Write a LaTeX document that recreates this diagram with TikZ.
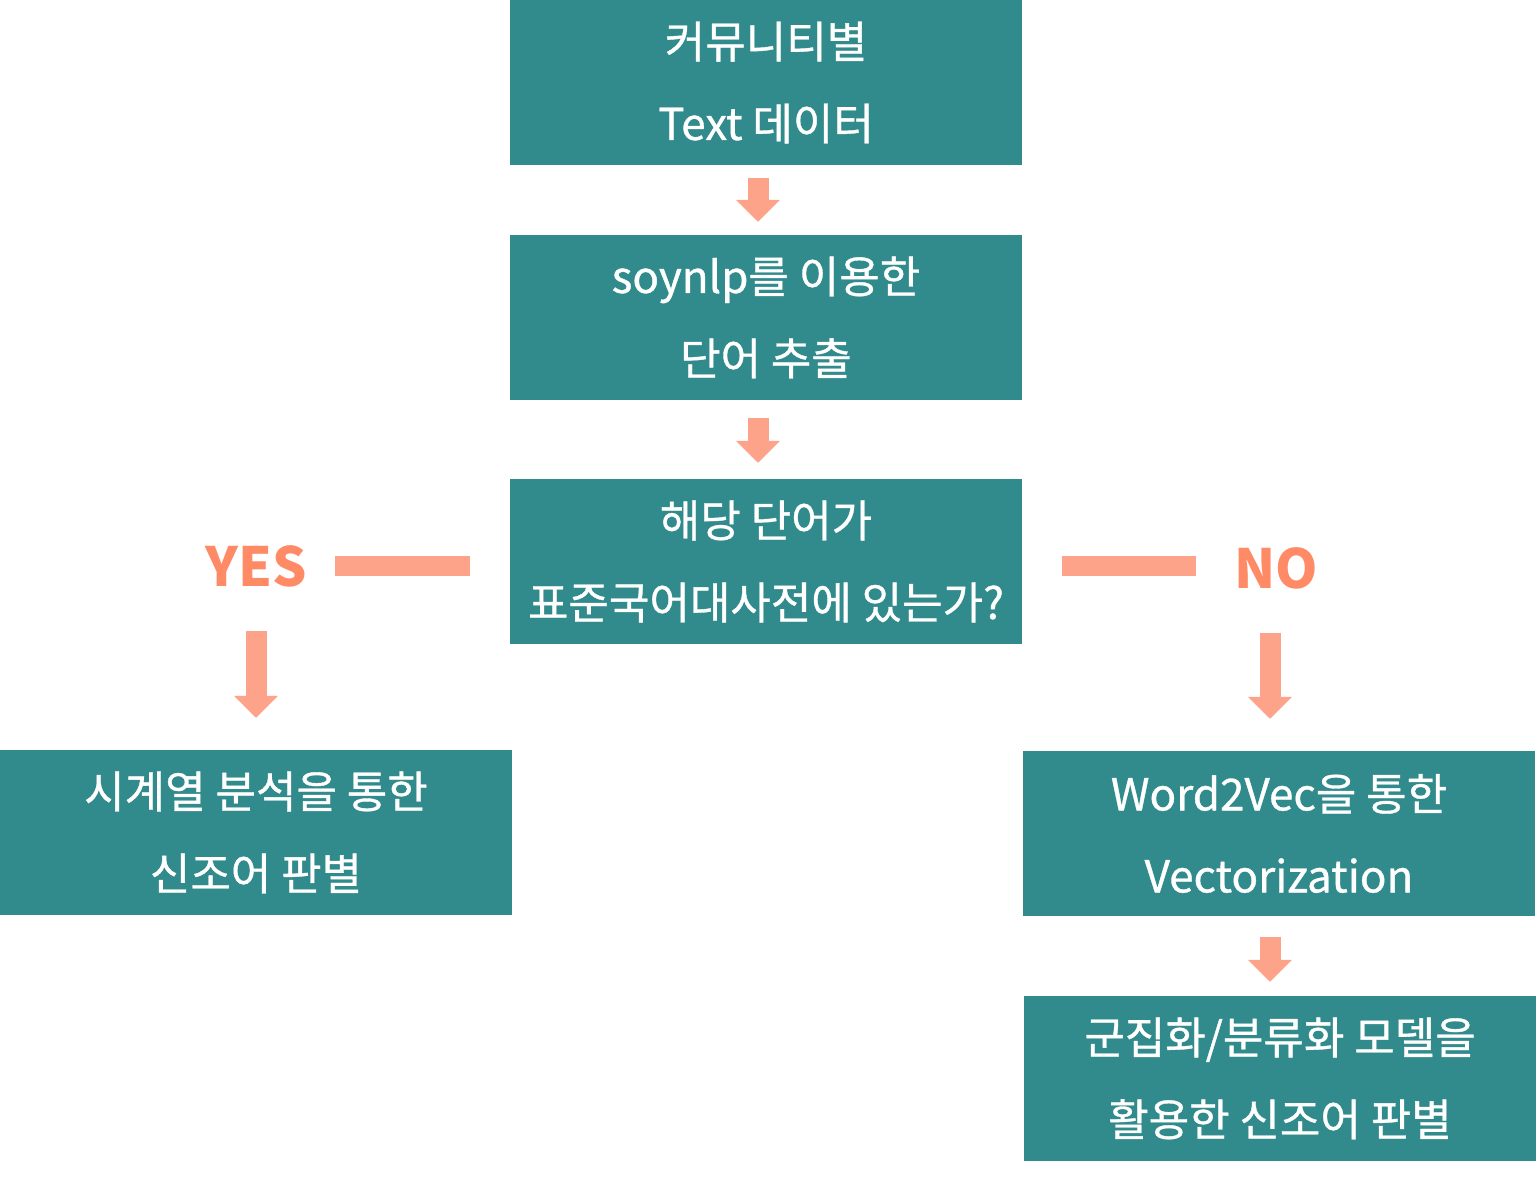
\documentclass[tikz,border=0pt]{standalone}
\usepackage{fontspec}
\setmainfont{Noto Sans CJK KR}
\newfontfamily\boxfont{Noto Sans CJK KR}[FakeBold=0.8]
\usetikzlibrary{arrows.meta}

\definecolor{boxteal}{HTML}{318A8C}
\definecolor{arrowsalmon}{HTML}{FCA389}
\definecolor{labelsalmon}{HTML}{FF8A66}

\begin{document}
\begin{tikzpicture}[
    x=1pt, y=-1pt,
    every node/.style={font=\boxfont\fontsize{44}{82}\selectfont},
    stepbox/.style={fill=boxteal, text=white, minimum width=512pt,
        minimum height=165pt, align=center, inner sep=0pt},
    flow/.style={draw=arrowsalmon, line width=21pt,
        -{Triangle[width=43pt,length=22pt]}},
    answer/.style={text=labelsalmon, inner sep=0pt,
        font=\fontsize{54}{60}\selectfont\bfseries},
    bar/.style={draw=arrowsalmon, line width=20pt}
]
\useasboundingbox (0,0) rectangle (1537,1176);

% main column
\node[stepbox] (data) at (766,82.5) {커뮤니티별\\Text 데이터};
\node[stepbox] (extract) at (766,317.5) {soynlp를 이용한\\단어 추출};
\node[stepbox] (check) at (766,561.5) {해당 단어가\\표준국어대사전에 있는가?};

% answers
\node[answer] (yes) at (256,566) {YES};
\node[answer] (no) at (1276,568) {NO};

\node[stepbox] (timeseries) at (256,832.5) {시계열 분석을 통한\\신조어 판별};
\node[stepbox] (vector) at (1279,833.5) {Word2Vec을 통한\\Vectorization};
\node[stepbox] (cluster) at (1280,1078.5) {군집화/분류화 모델을\\활용한 신조어 판별};

\draw[flow, shorten <=13pt, shorten >=13pt] ([xshift=-8pt]data.south) -- ([xshift=-8pt]extract.north);
\draw[flow, shorten <=18pt, shorten >=16pt] ([xshift=-8pt]extract.south) -- ([xshift=-8pt]check.north);

\draw[bar, shorten <=40pt, shorten >=28pt] (check.west |- yes) -- (yes.east);
\draw[bar, shorten <=40pt, shorten >=38pt] (check.east |- yes) -- (no.west |- yes);

\draw[flow, shorten <=44pt, shorten >=32pt] (yes.south) -- (yes.south |- timeseries.north);
\draw[flow, shorten <=44pt, shorten >=32pt] ([xshift=-6pt]no.south) -- ([xshift=-6pt]no.south |- vector.north);
\draw[flow, shorten <=21pt, shorten >=14pt] ([xshift=-6pt]no |- vector.south) -- ([xshift=-6pt]no |- cluster.north);
\end{tikzpicture}
\end{document}
